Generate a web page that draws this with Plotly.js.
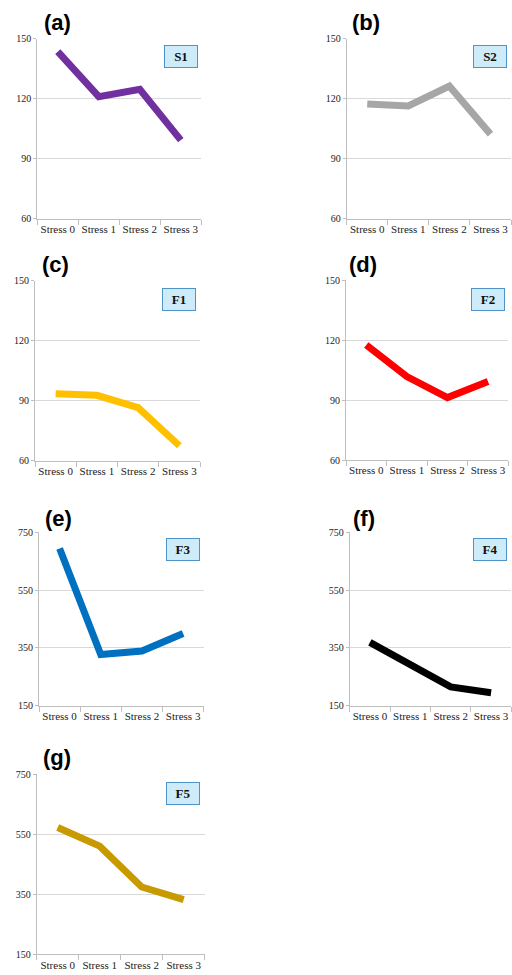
<!DOCTYPE html>
<html>
<head>
<meta charset="utf-8">
<script src="https://cdn.plot.ly/plotly-3.0.1.min.js"></script>
<style>
html,body{margin:0;padding:0;background:#fff;}
#chart{width:512px;height:975px;}
</style>
</head>
<body>
<div id="chart"></div>
<script>
// ---- data ----
const categories = ['Stress 0', 'Stress 1', 'Stress 2', 'Stress 3'];
const S1 = [143.5, 121, 124.7, 99.3];
const S2 = [117.3, 116.4, 126.3, 102.3];
const F1 = [93.5, 92.7, 86.5, 67.5];
const F2 = [117.5, 101.7, 91.2, 99.2];
const F3 = [694, 327, 339, 400];
const F4 = [369, 292, 215, 195];
const F5 = [572, 510, 374, 332];
const seriesNames = ['S1', 'S2', 'F1', 'F2', 'F3', 'F4', 'F5'];
const panelLabels = ['(a)', '(b)', '(c)', '(d)', '(e)', '(f)', '(g)'];
const ticksSmall = [60, 90, 120, 150];
const ticksLarge = [150, 350, 550, 750];

// ---- styling / layout ----
const W = 512, H = 975;
const series = [S1, S2, F1, F2, F3, F4, F5];
const colors = ['#7030A0', '#A6A6A6', '#FFC000', '#FF0000', '#0070C0', '#000000', '#C89A00'];
// pixel boxes: [left, right, top, bottom]
const boxes = [
  [37.3, 201.3, 38.7, 218.7],
  [346.7, 511, 38.7, 218.7],
  [35, 200, 280.7, 460.7],
  [346, 508.3, 280, 460],
  [39, 203.7, 532.3, 705.7],
  [349.7, 511.3, 532.3, 705.7],
  [36.7, 204.7, 774, 954.3]
];
const labelPos = [[42, 22], [350, 22], [40, 265], [347, 265], [43, 518], [351, 518], [41, 757]];
const badgePos = [[180.5, 57], [490, 57], [179, 299], [487.5, 299], [183, 549], [490, 549], [183, 793]];

const px = x => x / W;
const py = y => 1 - y / H;

const traces = [];
const layout = {
  width: W, height: H,
  margin: {l: 0, r: 0, t: 0, b: 0},
  paper_bgcolor: '#fff', plot_bgcolor: '#fff',
  showlegend: false,
  annotations: []
};

series.forEach((vals, i) => {
  const n = i === 0 ? '' : String(i + 1);
  traces.push({
    type: 'scatter', mode: 'lines',
    x: categories, y: vals,
    xaxis: 'x' + n, yaxis: 'y' + n,
    line: {color: colors[i], width: 7, shape: 'linear'},
    hoverinfo: 'skip'
  });
  const b = boxes[i];
  const big = i >= 4;
  layout['xaxis' + n] = {
    domain: [px(b[0]), px(b[1])],
    anchor: 'y' + n,
    type: 'category',
    range: [-0.5, 3.5],
    tickson: 'boundaries',
    tickangle: 0,
    ticks: 'outside', ticklen: 5, tickcolor: '#BFBFBF', tickwidth: 1,
    showline: true, linecolor: '#BFBFBF', linewidth: 1,
    showgrid: false, zeroline: false,
    tickfont: {family: '"Liberation Serif", "Times New Roman", serif', size: 11, color: '#222'},
    fixedrange: true
  };
  layout['yaxis' + n] = {
    domain: [py(b[3]), py(b[2])],
    anchor: 'x' + n,
    range: big ? [150, 750] : [60, 150],
    tickvals: big ? ticksLarge : ticksSmall,
    ticktext: (big ? ticksLarge : ticksSmall).map(String),
    ticks: 'outside', ticklen: 3, tickcolor: '#BFBFBF',
    showline: true, linecolor: '#BFBFBF', linewidth: 1,
    showgrid: true, gridcolor: '#D9D9D9', gridwidth: 1,
    zeroline: false,
    tickfont: {family: '"Liberation Serif", "Times New Roman", serif', size: 10, color: '#222'},
    fixedrange: true
  };
  layout.annotations.push({
    xref: 'paper', yref: 'paper',
    x: px(labelPos[i][0]), y: py(labelPos[i][1]),
    xanchor: 'left', yanchor: 'middle',
    text: '<b>' + panelLabels[i] + '</b>',
    showarrow: false,
    font: {family: '"Liberation Sans", Arial, sans-serif', size: 22, color: '#000'}
  });
  layout.annotations.push({
    xref: 'paper', yref: 'paper',
    x: px(badgePos[i][0]), y: py(badgePos[i][1]),
    xanchor: 'center', yanchor: 'middle',
    text: '<b>' + seriesNames[i] + '</b>',
    showarrow: false,
    width: 30, height: 19,
    bgcolor: '#CDEBF8', bordercolor: '#4F94C8', borderwidth: 1, borderpad: 1,
    font: {family: '"Liberation Serif", "Times New Roman", serif', size: 13, color: '#111'}
  });
});

Plotly.newPlot('chart', traces, layout, {staticPlot: true, displayModeBar: false});
</script>
</body>
</html>
